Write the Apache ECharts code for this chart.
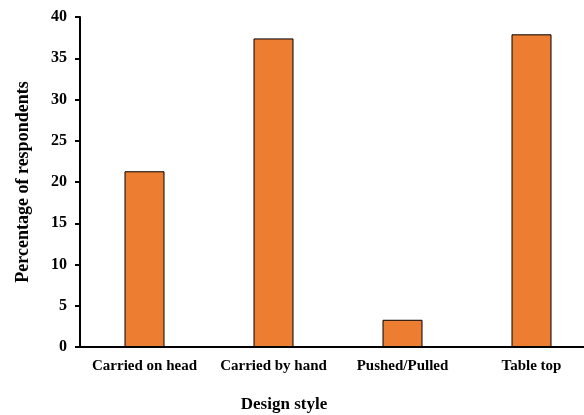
<!DOCTYPE html>
<html><head><meta charset="utf-8">
<script src="https://cdn.jsdelivr.net/npm/echarts@6/dist/echarts.min.js"></script>
<style>html,body{margin:0;padding:0;background:#fff}#c{width:584px;height:415px}</style>
</head><body><div id="c"></div>
<script>
const categories = ["Carried on head", "Carried by hand", "Pushed/Pulled", "Table top"];
const values = [21.3, 37.4, 3.3, 37.9];
const yTicks = [0, 5, 10, 15, 20, 25, 30, 35, 40];
const font = "'Liberation Serif', 'Times New Roman', serif";
const chart = echarts.init(document.getElementById('c'));
chart.setOption({
  animation: false,
  grid: { left: 80, top: 17, width: 516, height: 330, containLabel: false, outerBoundsMode: 'none' },
  xAxis: {
    type: 'category', data: categories,
    axisLine: { lineStyle: { color: '#000', width: 2 } },
    axisTick: { show: false },
    axisLabel: { color: '#000', fontFamily: font, fontWeight: 'bold', fontSize: 15, margin: 12, interval: 0 },
    name: 'Design style', nameLocation: 'middle', nameGap: 49,
    nameTextStyle: { color: '#000', fontFamily: font, fontWeight: 'bold', fontSize: 17, padding: [0, 0, 0, -108] }
  },
  yAxis: {
    type: 'value', min: yTicks[0], max: yTicks[yTicks.length - 1], interval: 5,
    splitLine: { show: false },
    axisLine: { show: true, lineStyle: { color: '#000', width: 2 } },
    axisTick: { show: true, length: 5, lineStyle: { color: '#000', width: 2 } },
    axisLabel: { color: '#000', fontFamily: font, fontWeight: 'bold', fontSize: 16, margin: 13 },
    name: 'Percentage of respondents', nameLocation: 'middle', nameGap: 48, nameRotate: 90,
    nameTextStyle: { color: '#000', fontFamily: font, fontWeight: 'bold', fontSize: 18 }
  },
  series: [{
    type: 'bar', data: values, barWidth: 40,
    itemStyle: { color: '#ED7D31', borderColor: '#000', borderWidth: 1 }
  }]
});
</script></body></html>
